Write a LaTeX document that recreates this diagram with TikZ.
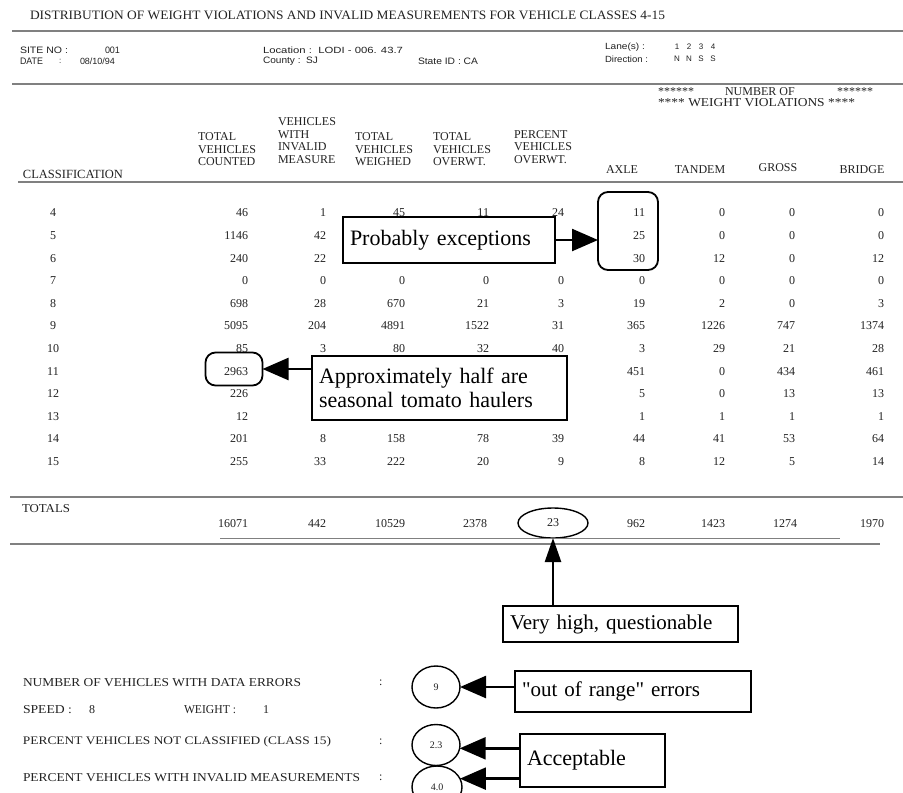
\documentclass[tikz,border=0pt]{standalone}
\usepackage{fontspec}
\setmainfont{Liberation Serif}
\newfontfamily\hdrfont{Liberation Sans}
\usetikzlibrary{arrows.meta,shapes.geometric}
\definecolor{ink}{HTML}{222222}
\definecolor{rulec}{HTML}{808080}
\newcommand\fitbox[3]{\resizebox{#1}{#2}{#3}}
\begin{document}
\begin{tikzpicture}[x=1pt,y=-1pt,
  every node/.style={inner sep=0pt,outer sep=0pt,text=ink},
  tbl/.style={font=\fontsize{12}{12}\selectfont},
  num/.style={tbl,anchor=east},
  cls/.style={tbl,anchor=center},
  hd/.style={anchor=south west,align=left,font=\fontsize{12}{12.5}\selectfont},
  hdc/.style={anchor=center,font=\fontsize{12}{12}\selectfont},
  info/.style={anchor=west,font=\hdrfont\fontsize{8}{8}\selectfont},
  lbl/.style={anchor=west},
  rulel/.style={draw=rulec,line width=1.1pt},
  callout/.style={draw=black,line width=2.2pt,fill=white,text=black,align=left,
    font=\fontsize{22}{24}\selectfont},
  ring/.style={draw=black,line width=1.8pt,rounded corners=10pt},
  oval/.style={ellipse,draw=black,line width=1.4pt,font=\fontsize{10}{10}\selectfont},
  pointer/.style={draw=black,line width=2.4pt,-{Triangle[length=26pt,width=22pt]}},
  vpointer/.style={draw=black,line width=2.4pt,-{Triangle[length=24pt,width=16pt]}}
]
\useasboundingbox (0,0) rectangle (903,793);
\clip (0,0) rectangle (903,793);
\fill[white] (0,0) rectangle (903,793);

% ---------- title and header block
\node[lbl] (title) at (30,15) {\fitbox{635pt}{8.5pt}{DISTRIBUTION OF WEIGHT VIOLATIONS AND INVALID MEASUREMENTS FOR VEHICLE CLASSES 4-15}};
\draw[rulel] (12,31) -- (903,31);

\node[info] (siteL) at (20,50) {\fitbox{48pt}{6.5pt}{SITE NO :}};
\node[info] (siteV) at (105,50) {\fitbox{15pt}{6.5pt}{001}};
\node[info] (dateL) at (20,61) {\fitbox{23pt}{6.5pt}{DATE}};
\node[info] (dateC) at (59,61) {:};
\node[info] (dateV) at (80,61) {\fitbox{35pt}{6.5pt}{08/10/94}};
\node[info] (locL) at (263,50) {\fitbox{140pt}{6.5pt}{Location :\ \ LODI - 006. 43.7}};
\node[info] (cntyL) at (263,61) {\fitbox{55pt}{6.5pt}{County :\ \ SJ}};
\node[info] (stL) at (418,61) {\fitbox{60pt}{6.5pt}{State ID : CA}};
\node[info] (laneL) at (605,47) {\fitbox{40pt}{6.5pt}{Lane(s) :}};
\node[info] (dirL) at (605,59) {\fitbox{43pt}{6.5pt}{Direction :}};
\foreach \n/\d/\xx in {1/N/677,2/N/689,3/S/701,4/S/713}{
  \node[info,anchor=center] (lane\n) at (\xx,47) {\n};
  \node[info,anchor=center] (dir\n) at (\xx,59) {\d};
}
\draw[rulel] (12,84) -- (903,84);

% ---------- column headings
\node[lbl,font=\fontsize{12}{12}\selectfont] (st1) at (658,92) {******};
\node[lbl,font=\fontsize{12}{12}\selectfont] (nof) at (725,92) {NUMBER OF};
\node[lbl,font=\fontsize{12}{12}\selectfont] (st2) at (837,92) {******};
\node[lbl] (wv) at (658,103) {\fitbox{197pt}{8pt}{**** WEIGHT VIOLATIONS ****}};

\node[lbl,font=\fontsize{12.5}{12}\selectfont] (hclass) at (23,174) {CLASSIFICATION};
\node[hd] (hcnt) at (198,166) {TOTAL\\VEHICLES\\COUNTED};
\node[hd] (hinv) at (278,163.5) {VEHICLES\\WITH\\INVALID\\MEASURE};
\node[hd] (hwgh) at (355,166) {TOTAL\\VEHICLES\\WEIGHED};
\node[hd] (hovw) at (433,166) {TOTAL\\VEHICLES\\OVERWT.};
\node[hd] (hpct) at (514,163.5) {PERCENT\\VEHICLES\\OVERWT.};
\node[hdc] (haxl) at (622,170) {AXLE};
\node[hdc] (htnd) at (700,170) {TANDEM};
\node[hdc] (hgrs) at (778,168) {GROSS};
\node[hdc] (hbrg) at (862,170) {BRIDGE};
\draw[rulel] (18,182) -- (903,182);

% ---------- table body
\foreach \cls/\a/\b/\c/\d/\e/\f/\g/\h/\i [count=\k from 0] in {
 4/46/1/45/11/24/11/0/0/0,
 5/1146/42/{}/{}/{}/25/0/0/0,
 6/240/22/{}/{}/{}/30/12/0/12,
 7/0/0/0/0/0/0/0/0/0,
 8/698/28/670/21/3/19/2/0/3,
 9/5095/204/4891/1522/31/365/1226/747/1374,
 10/85/3/80/32/40/3/29/21/28,
 11/2963/{}/{}/{}/{}/451/0/434/461,
 12/226/{}/{}/{}/{}/5/0/13/13,
 13/12/{}/{}/{}/{}/1/1/1/1,
 14/201/8/158/78/39/44/41/53/64,
 15/255/33/222/20/9/8/12/5/14}{
  \pgfmathsetmacro\yy{213+22.6*\k}
  \node[cls] (cl\cls) at (53,\yy) {\cls};
  \node[num] (cnt\cls) at (248,\yy) {\a};
  \node[num] (inv\cls) at (326,\yy) {\b};
  \node[num] (wgh\cls) at (405,\yy) {\c};
  \node[num] (ovw\cls) at (489,\yy) {\d};
  \node[num] (pct\cls) at (564,\yy) {\e};
  \node[num] (axl\cls) at (645,\yy) {\f};
  \node[num] (tnd\cls) at (725,\yy) {\g};
  \node[num] (grs\cls) at (795,\yy) {\h};
  \node[num] (brg\cls) at (884,\yy) {\i};
}
\draw[rulel] (10,497) -- (903,497);

% ---------- totals
\node[lbl] (tot) at (22,509) {\fitbox{48pt}{8pt}{TOTALS}};
\node[num] (tcnt) at (248,524) {16071};
\node[num] (tinv) at (326,524) {442};
\node[num] (twgh) at (405,524) {10529};
\node[num] (tovw) at (487,524) {2378};
\node[oval,tbl,minimum width=70,minimum height=30] (tpct) at (553,523) {23};
\node[num] (taxl) at (645,524) {962};
\node[num] (ttnd) at (725,524) {1423};
\node[num] (tgrs) at (797,524) {1274};
\node[num] (tbrg) at (884,524) {1970};
\draw[draw=rulec,line width=0.8pt] (220,538) -- (840,538);
\draw[rulel] (10,544) -- (880,544);

% ---------- summary lines
\node[lbl] (nerr) at (23,683) {\fitbox{278pt}{8pt}{NUMBER OF VEHICLES WITH DATA ERRORS}};
\node[lbl,tbl] (nerrC) at (379,683) {:};
\node[lbl] (spdL) at (23,710) {\fitbox{49pt}{8pt}{SPEED :}};
\node[cls] (spdV) at (92,710) {8};
\node[lbl] (wgtL) at (184,710) {\fitbox{52pt}{8pt}{WEIGHT :}};
\node[cls] (wgtV) at (266,710) {1};
\node[lbl] (pnc) at (23,742) {\fitbox{308pt}{8pt}{PERCENT VEHICLES NOT CLASSIFIED (CLASS 15)}};
\node[lbl,tbl] (pncC) at (379,742) {:};
\node[lbl] (pim) at (23,778) {\fitbox{337pt}{8pt}{PERCENT VEHICLES WITH INVALID MEASUREMENTS}};
\node[lbl,tbl] (pimC) at (379,778) {:};

\node[oval,minimum width=48,minimum height=42] (e9) at (436,687) {9};
\node[oval,minimum width=48,minimum height=41] (e23) at (436,745) {2.3};
\node[oval,minimum width=50,minimum height=42] (e40) at (437,787) {4.0};

% ---------- annotations
\node[callout,anchor=north west,minimum width=212,minimum height=46,text width=198,inner xsep=7pt] (pe) at (343,217) {Probably exceptions};
\node[ring,minimum width=60,minimum height=78] (axring) at (628,231) {};
\draw[pointer] (pe.east) -- (pe.east -| axring.west);

\node[callout,anchor=north west,minimum width=255,minimum height=64,text width=241,inner xsep=7pt] (tom) at (312,356) {Approximately half are\\seasonal tomato haulers};
\node[ring,minimum width=57,minimum height=33] (r2963) at (234,369) {};
\draw[pointer] (tom.west |- r2963.east) -- (r2963.east);

\node[callout,anchor=north west,minimum width=235,minimum height=36,text width=221,inner xsep=7pt,font=\fontsize{21}{22}\selectfont] (vh) at (503,606) {Very high, questionable};
\draw[vpointer] (vh.north -| tpct.south) -- (tpct.south);

\node[callout,anchor=north west,minimum width=236,minimum height=41,text width=222,inner xsep=7pt,font=\fontsize{21}{22}\selectfont] (oor) at (515,671) {\textquotedbl out of range\textquotedbl{} errors};
\draw[pointer] (oor.west |- e9.east) -- (e9.east);

\node[callout,anchor=north west,minimum width=145,minimum height=53,text width=131,inner xsep=7pt] (acc) at (520,734) {Acceptable};
\draw[pointer] (acc.west |- e23.-8) -- (e23.-8);
\draw[pointer] (acc.west |- e40.20) -- (e40.20);
\end{tikzpicture}
\end{document}
